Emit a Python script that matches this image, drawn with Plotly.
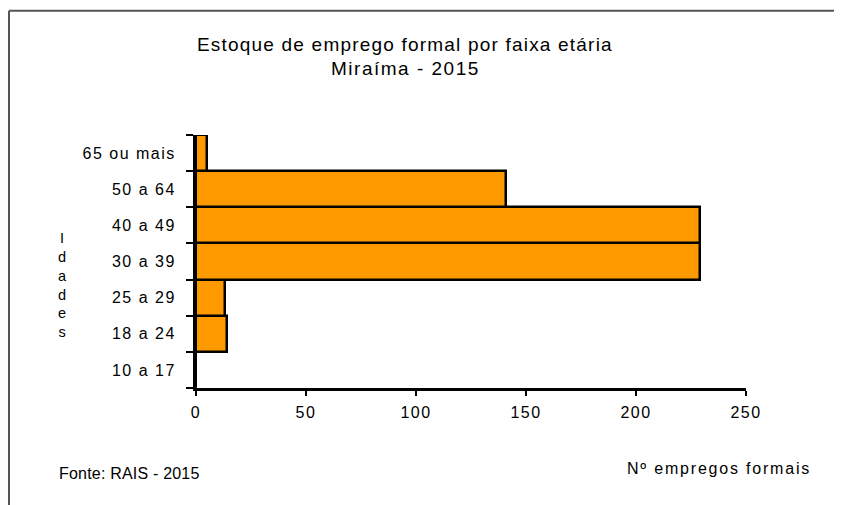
import plotly.graph_objects as go

# ---- data ----
categorias = ["10 a 17", "18 a 24", "25 a 29", "30 a 39", "40 a 49", "50 a 64", "65 ou mais"]
empregos = [0, 14, 13, 229, 229, 141, 5]
x_ticks = [0, 50, 100, 150, 200, 250]

titulo_1 = "Estoque de emprego formal por faixa etária"
titulo_2 = "Miraíma - 2015"
eixo_y = "Idades"
eixo_x = "Nº empregos formais"
fonte = "Fonte: RAIS - 2015"

# ---- layout geometry (window pixels; page body has an 8px margin) ----
OFF = 8
W, H = 842 - OFF, 505 - OFF
L, T = 196 - OFF, 135 - OFF
PW, PH = 550, 253
R, B = W - L - PW, H - T - PH


def px(x):
    return (x - OFF - L) / PW


def py(y):
    return 1 - (y - OFF - T) / PH


def sp(text, s):
    return f'<span style="letter-spacing:{s}px">{text}</span>'


FONT = "Liberation Sans, Arial, sans-serif"

fig = go.Figure()
fig.add_trace(go.Bar(
    x=empregos,
    y=categorias,
    orientation="h",
    marker=dict(color="#FF9900", line=dict(color="#000000", width=2.5)),
    hoverinfo="x+y",
))

fig.update_layout(
    width=W, height=H,
    margin=dict(l=L, r=R, t=T, b=B, autoexpand=False),
    paper_bgcolor="white",
    plot_bgcolor="white",
    bargap=0,
    showlegend=False,
    font=dict(family=FONT, size=16, color="#000000"),
    xaxis=dict(
        range=[0, 250],
        tickmode="array",
        tickvals=x_ticks,
        ticktext=[sp(str(v), 1.5) for v in x_ticks],
        ticks="outside", ticklen=5, tickwidth=2, tickcolor="#000",
        ticklabelstandoff=3,
        showline=True, linewidth=3, linecolor="#000",
        showgrid=False, zeroline=False,
        tickfont=dict(size=16),
        automargin=False,
        fixedrange=True,
    ),
    yaxis=dict(
        type="category",
        categoryorder="array",
        categoryarray=categorias,
        range=[-0.5, len(categorias) - 0.5],
        tickmode="array",
        tickvals=categorias,
        ticktext=[sp(c, 1.5) for c in categorias],
        tickson="boundaries",
        ticks="outside", ticklen=7, tickwidth=2, tickcolor="#000",
        ticklabelstandoff=14,
        showline=True, linewidth=3, linecolor="#000",
        showgrid=False, zeroline=False,
        tickfont=dict(size=16),
        automargin=False,
        fixedrange=True,
    ),
)

annots = [
    dict(text=sp(titulo_1, 1.2), x=px(405), y=py(44), font=dict(size=19)),
    dict(text=sp(titulo_2, 1.5), x=px(405), y=py(68), font=dict(size=19)),
    dict(text="<br>".join(list(eixo_y)), x=px(62), y=py(285), font=dict(size=14.5)),
    dict(text=sp(fonte, 0.2), x=px(57), y=py(473), font=dict(size=16), xanchor="left"),
    dict(text=sp(eixo_x, 1.8), x=px(719), y=py(468), font=dict(size=16)),
]
for a in annots:
    a.setdefault("xanchor", "center")
    fig.add_annotation(xref="paper", yref="paper", yanchor="middle",
                       showarrow=False, **a)

# outer frame (cut off at right/bottom edges)
frame = dict(color="#555555", width=2)
fig.add_shape(type="line", xref="paper", yref="paper",
              x0=px(9), y0=py(10.7), x1=px(842 + 4), y1=py(10.7), line=frame)
fig.add_shape(type="line", xref="paper", yref="paper",
              x0=px(9), y0=py(10.7), x1=px(9), y1=py(505 + 4), line=frame)

fig.write_html("out.html")
